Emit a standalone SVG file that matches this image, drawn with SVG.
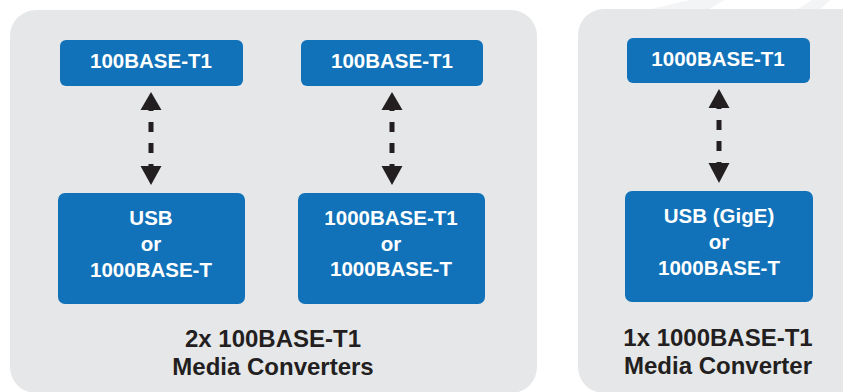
<svg xmlns="http://www.w3.org/2000/svg" width="843" height="392" viewBox="0 0 843 392">
<defs>
<style>
.panel{fill:#e6e7e9}
.box{fill:#1172b9}
.bt{fill:#ffffff;font-family:"Liberation Sans",Arial,sans-serif;font-weight:bold;font-size:20.5px;text-anchor:middle}
.lbl{fill:#231f20;font-family:"Liberation Sans",Arial,sans-serif;font-weight:bold;font-size:24px;text-anchor:middle}
.dash{stroke:#231f20;stroke-width:5;stroke-dasharray:10 11;stroke-dashoffset:7;fill:none}
.head{fill:#231f20}
</style>
</defs>
<rect width="843" height="392" fill="#ffffff"/>
<g id="watermark" fill="#f3f4f6">
<polygon points="630,14 690,0 725,0 700,14"/>
<polygon points="790,14 812,0 830,0 815,14"/>
</g>
<g id="panel-left">
<rect class="panel" x="10" y="10" width="527" height="383" rx="26"/>
<text class="lbl" x="273" y="347">2x 100BASE-T1</text>
<text class="lbl" x="273" y="375">Media Converters</text>
</g>
<g id="panel-right">
<rect class="panel" x="578" y="9" width="300" height="384" rx="26"/>
<text class="lbl" x="718" y="346">1x 1000BASE-T1</text>
<text class="lbl" x="718" y="374">Media Converter</text>
</g>
<g id="node-a-top">
<rect class="box" x="60" y="40" width="183" height="46" rx="6"/>
<text class="bt" x="151" y="68">100BASE-T1</text>
</g>
<g id="node-b-top">
<rect class="box" x="301" y="40" width="182" height="46" rx="6"/>
<text class="bt" x="392" y="68">100BASE-T1</text>
</g>
<g id="node-c-top">
<rect class="box" x="627" y="38" width="183" height="45" rx="6"/>
<text class="bt" x="718" y="66">1000BASE-T1</text>
</g>
<g id="node-a-bottom">
<rect class="box" x="58" y="193" width="187" height="111" rx="7"/>
<text class="bt" x="151" y="225">USB</text>
<text class="bt" x="151" y="251">or</text>
<text class="bt" x="151" y="277">1000BASE-T</text>
</g>
<g id="node-b-bottom">
<rect class="box" x="298" y="193" width="187" height="111" rx="7"/>
<text class="bt" x="391" y="225">1000BASE-T1</text>
<text class="bt" x="391" y="251">or</text>
<text class="bt" x="391" y="276">1000BASE-T</text>
</g>
<g id="node-c-bottom">
<rect class="box" x="625" y="191" width="188" height="111" rx="7"/>
<text class="bt" x="719" y="223">USB (GigE)</text>
<text class="bt" x="719" y="249">or</text>
<text class="bt" x="719" y="275">1000BASE-T</text>
</g>
<g id="connectors">
<line class="dash" x1="151" y1="108" x2="151" y2="168"/>
<polygon class="head" points="151,92 161.5,110 140.5,110"/>
<polygon class="head" points="151,185 161.5,166 140.5,166"/>
<line class="dash" x1="392" y1="108" x2="392" y2="168"/>
<polygon class="head" points="392,92 402.5,110 381.5,110"/>
<polygon class="head" points="392,185 402.5,166 381.5,166"/>
<line class="dash" x1="719" y1="106" x2="719" y2="166"/>
<polygon class="head" points="719,89 729.5,108 708.5,108"/>
<polygon class="head" points="719,183 729.5,163 708.5,163"/>
</g>
</svg>
